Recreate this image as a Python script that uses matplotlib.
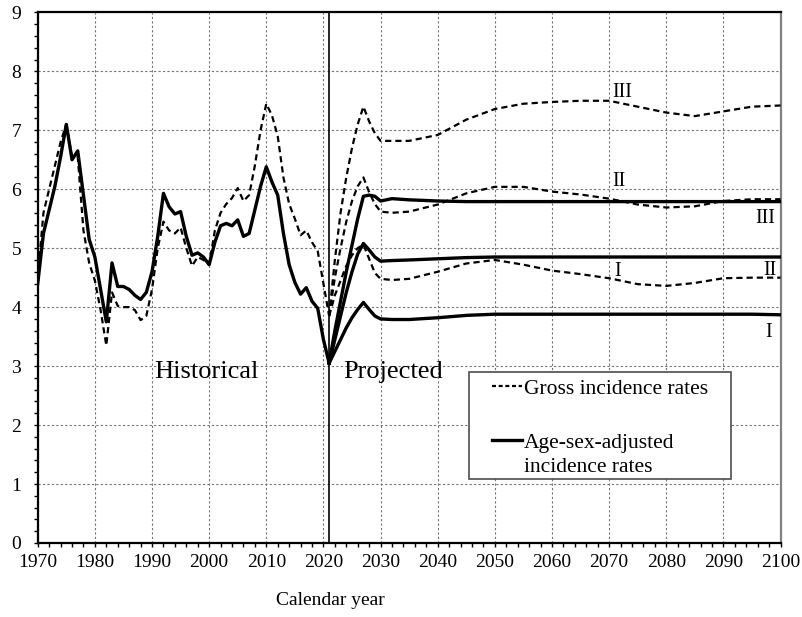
import numpy as np
import matplotlib
matplotlib.use("Agg")
import matplotlib.pyplot as plt
from matplotlib.ticker import MultipleLocator
from matplotlib.patches import Rectangle
from matplotlib.lines import Line2D
from matplotlib.legend_handler import HandlerLine2D

plt.rcParams['font.family'] = ['Liberation Serif', 'DejaVu Serif']

# historical data (1970-2021)
hist_years = list(range(1970, 2022))
hist_adjusted = [4.40, 5.25, 5.65, 6.05, 6.55, 7.10, 6.50, 6.65, 5.90, 5.15,
                 4.85, 4.30, 3.75, 4.75, 4.35, 4.35, 4.30, 4.20, 4.13, 4.25,
                 4.60, 5.20, 5.93, 5.70, 5.58, 5.62, 5.20, 4.88, 4.92, 4.85,
                 4.72, 5.10, 5.38, 5.42, 5.38, 5.48, 5.20, 5.25, 5.65, 6.05,
                 6.38, 6.12, 5.90, 5.25, 4.72, 4.42, 4.22, 4.33, 4.10, 3.98,
                 3.45, 3.05]
hist_gross = [4.50, 5.60, 6.00, 6.40, 6.80, 7.10, 6.55, 6.55, 5.30, 4.75,
              4.45, 3.95, 3.35, 4.25, 4.02, 4.00, 4.00, 3.95, 3.78, 3.85,
              4.30, 5.00, 5.45, 5.30, 5.25, 5.35, 5.00, 4.70, 4.85, 4.80,
              4.72, 5.30, 5.60, 5.75, 5.85, 6.02, 5.80, 5.90, 6.40, 7.00,
              7.45, 7.25, 6.90, 6.20, 5.75, 5.50, 5.22, 5.30, 5.10, 4.95,
              4.40, 3.85]

# projections (2021-2100), scenarios I, II, III
proj_years = [2021, 2022, 2023, 2024, 2025, 2026, 2027, 2028, 2029, 2030, 2032,
              2035, 2040, 2045, 2050, 2055, 2060, 2065, 2070, 2075, 2080, 2085,
              2090, 2095, 2100]
gross_III = [3.85, 4.80, 5.60, 6.20, 6.70, 7.10, 7.40, 7.15, 6.95, 6.82, 6.82,
             6.82, 6.92, 7.18, 7.36, 7.45, 7.48, 7.50, 7.50, 7.40, 7.30, 7.24,
             7.32, 7.40, 7.42]
gross_II = [3.85, 4.50, 5.00, 5.45, 5.80, 6.05, 6.20, 5.95, 5.75, 5.62, 5.60,
            5.62, 5.74, 5.93, 6.04, 6.04, 5.96, 5.91, 5.84, 5.74, 5.69, 5.71,
            5.80, 5.83, 5.83]
gross_I = [3.85, 4.20, 4.45, 4.70, 4.88, 5.00, 5.06, 4.82, 4.58, 4.48, 4.46,
           4.48, 4.60, 4.74, 4.80, 4.72, 4.62, 4.56, 4.49, 4.39, 4.36, 4.41,
           4.49, 4.50, 4.50]
adj_III = [3.05, 3.60, 4.10, 4.60, 5.05, 5.50, 5.88, 5.90, 5.88, 5.80, 5.84,
           5.82, 5.80, 5.79, 5.79, 5.79, 5.79, 5.79, 5.79, 5.79, 5.79, 5.79,
           5.79, 5.79, 5.79]
adj_II = [3.05, 3.45, 3.85, 4.25, 4.60, 4.90, 5.08, 4.97, 4.85, 4.78, 4.79,
          4.80, 4.82, 4.84, 4.85, 4.85, 4.85, 4.85, 4.85, 4.85, 4.85, 4.85,
          4.85, 4.85, 4.85]
adj_I = [3.05, 3.25, 3.45, 3.65, 3.82, 3.96, 4.08, 3.96, 3.85, 3.80, 3.79,
         3.79, 3.82, 3.86, 3.88, 3.88, 3.88, 3.88, 3.88, 3.88, 3.88, 3.88,
         3.88, 3.88, 3.87]

dash = (0, (2.8, 1.8))
fig, ax = plt.subplots(figsize=(8.03, 6.17), dpi=100)
fig.subplots_adjust(left=0.047, right=0.972, bottom=0.120, top=0.980)

ax.plot(hist_years, hist_gross, color='black', lw=1.6, linestyle=dash, zorder=3)
ax.plot(hist_years, hist_adjusted, color='black', lw=2.4, zorder=3)
for g in (gross_I, gross_II, gross_III):
    ax.plot(proj_years, g, color='black', lw=1.6, linestyle=dash, zorder=3)
for a in (adj_I, adj_II, adj_III):
    ax.plot(proj_years, a, color='black', lw=2.4, zorder=3)

ax.axvline(2021, color='black', lw=1.2, zorder=2)

ax.set_xlim(1970, 2100)
ax.set_ylim(0, 9)
ax.xaxis.set_major_locator(MultipleLocator(10))
ax.xaxis.set_minor_locator(MultipleLocator(2))
ax.yaxis.set_major_locator(MultipleLocator(1))
ax.yaxis.set_minor_locator(MultipleLocator(0.2))
ax.tick_params(which='both', direction='out', length=3, width=1, labelsize=14)
ax.tick_params(axis='x', pad=5)
ax.tick_params(axis='y', pad=9)
ax.grid(True, which='major', color='0.45', linestyle=(0, (2, 2)), lw=0.8)
for s in ('left', 'bottom', 'top'):
    ax.spines[s].set_linewidth(1.6)
    ax.spines[s].set_color('black')
ax.spines['right'].set_linewidth(1.6)
ax.spines['right'].set_color('0.5')

# period labels
ax.text(1999.6, 2.80, 'Historical', fontsize=19, ha='center', va='baseline')
ax.text(2032.2, 2.80, 'Projected', fontsize=19, ha='center', va='baseline')

# scenario labels
ax.text(2072.3, 7.57, 'III', fontsize=14.5, ha='center', va='baseline')
ax.text(2071.8, 6.06, 'II', fontsize=14.5, ha='center', va='baseline')
ax.text(2071.5, 4.52, 'I', fontsize=14.5, ha='center', va='baseline')
ax.text(2097.4, 5.42, 'III', fontsize=14.5, ha='center', va='baseline')
ax.text(2098.1, 4.55, 'II', fontsize=14.5, ha='center', va='baseline')
ax.text(2098.0, 3.50, 'I', fontsize=14.5, ha='center', va='baseline')


class FirstLineHandler(HandlerLine2D):
    # put the handle next to the first line of a two-line label
    def create_artists(self, legend, orig_handle, xdescent, ydescent,
                       width, height, fontsize, trans):
        arts = super().create_artists(legend, orig_handle, xdescent, ydescent,
                                      width, height, fontsize, trans)
        for art in arts:
            art.set_ydata(np.asarray(art.get_ydata()) + 0.7 * fontsize)
        return arts


h_gross = Line2D([], [], color='black', lw=1.6, linestyle=(0, (1.8, 1.2)))
h_adj = Line2D([], [], color='black', lw=2.4)
ax.add_patch(Rectangle((0.580, 0.121), 0.354, 0.201, transform=ax.transAxes,
                       facecolor='white', edgecolor='0.3', lw=1.2, zorder=4))
leg = ax.legend([h_gross, h_adj],
                ['Gross incidence rates', 'Age-sex-adjusted\nincidence rates'],
                handler_map={h_adj: FirstLineHandler()},
                loc='upper left', bbox_to_anchor=(0.611, 0.310),
                frameon=False, fontsize=15.5, borderpad=0, borderaxespad=0,
                handlelength=1.4, handletextpad=0.1, labelspacing=1.65)
for t in leg.get_texts():
    t.set_linespacing(1.37)
leg.set_zorder(5)

fig.text(0.411, 0.026, 'Calendar year', fontsize=14, ha='center', va='center')

fig.savefig('out.png', dpi=100)
